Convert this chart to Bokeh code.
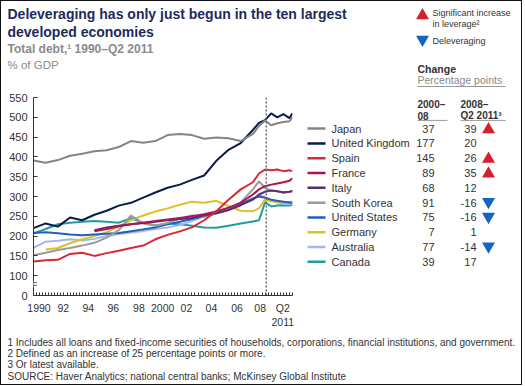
import numpy as np
from bokeh.plotting import figure
from bokeh.layouts import column, row
from bokeh.models import Label, Span, FixedTicker, Range1d
from bokeh.core.properties import value
from bokeh.embed import file_html
from bokeh.resources import INLINE

# ---------------- data ----------------
years = [1990, 1991, 1992, 1993, 1994, 1995, 1996, 1997, 1998, 1999, 2000,
         2001, 2002, 2003, 2004, 2005, 2006, 2007, 2008, 2008.5, 2009, 2009.5,
         2010, 2010.5, 2011, 2011.25]

japan = [391, 385, 392, 403, 408, 414, 417, 425, 440, 436, 440, 455, 458, 455,
         446, 449, 447, 440, 458, 478, 492, 480, 485, 488, 490, 500]
united_kingdom = [220, 232, 224, 247, 240, 254, 264, 277, 284, 297, 310, 322, 330,
                  342, 353, 390, 418, 435, 468, 486, 493, 510, 500, 508, 498, 510]
spain = [136, 139, 140, 155, 158, 150, 157, 163, 170, 176, 192, 203, 212, 222,
         240, 263, 292, 318, 336, 358, 368, 366, 368, 364, 366, 364]
france = [None, None, None, None, None, 212, 218, 225, 230, 234, 238, 242, 246,
          250, 255, 262, 272, 284, 305, 318, 326, 330, 333, 336, 340, 346]
italy = [None, None, None, None, None, 215, 222, 226, 230, 233, 236, 240, 243,
         246, 252, 258, 266, 278, 292, 305, 312, 315, 313, 311, 312, 314]
south_korea = [152, 158, 165, 170, 176, 183, 196, 215, 252, 232, 226, 233, 244,
               252, 248, 258, 268, 285, 318, 338, 322, 315, 313, 309, 312, 314]
united_states = [208, 210, 207, 204, 202, 204, 206, 208, 212, 217, 222, 230, 236,
                 243, 250, 257, 266, 280, 295, 300, 297, 292, 289, 287, 285, 284]
germany = [None, 166, 170, 182, 192, 200, 210, 224, 240, 252, 262, 270, 279, 287,
           284, 289, 276, 264, 263, 270, 292, 288, 287, 285, 286, 287]
australia = [170, 186, 188, 192, 189, 193, 200, 205, 209, 213, 218, 222, 228, 238,
             250, 259, 268, 281, 293, 303, 298, 290, 285, 282, 281, 283]
canada = [207, 218, 230, 234, 236, 238, 236, 234, 245, 234, 227, 232, 230, 226,
          222, 221, 226, 232, 237, 240, 285, 275, 277, 278, 277, 279]

countries = ["Japan", "United Kingdom", "Spain", "France", "Italy", "South Korea",
             "United States", "Germany", "Australia", "Canada"]
series = [japan, united_kingdom, spain, france, italy, south_korea,
          united_states, germany, australia, canada]
colors = ["#858585", "#0c1a4b", "#d62a36", "#a8174e", "#5a2d78", "#9a9a9a",
          "#1f5fbf", "#dcc12a", "#a3b6ef", "#1f9e9e"]
change_2000_08 = [37, 177, 145, 89, 68, 91, 75, 7, 77, 39]
change_2008_11 = [39, 20, 26, 35, 12, -16, -16, 1, -14, 17]

y_ticks = [50, 100, 150, 200, 250, 300, 350, 400, 450, 500, 550]
y_tick_labels = ["0", "100", "150", "200", "250", "300", "350", "400", "450", "500", "550"]
x_label_pos = [1990.45, 1992.45, 1994.5, 1996.55, 1998.65, 2000.6, 2002.55,
               2004.6, 2006.7, 2008.6, 2010.45]
x_tick_labels = ["1990", "92", "94", "96", "98", "2000", "02", "04", "06", "08", "Q2\n2011"]
crisis_marker = 2009.1

# ---------------- layout constants ----------------
W = 520
TOP_H = 87
MID_H = 242
FOOT_H = 54
PLOT_W = 300
TAB_W = W - PLOT_W

FONT = "Liberation Sans"
NAVY = "#1f2a5a"
GRAY = "#8a8a8a"
DARK = "#333333"
RED = "#d71e2b"
BLUE = "#1565c0"


def fxy(rx, ry):
    return rx - 1, ry - 1


def canvas_fig(w, h):
    f = figure(width=w, height=h, output_backend="svg", toolbar_location=None,
               x_range=Range1d(0, w), y_range=Range1d(h, 0),
               min_border=0, min_border_left=0, min_border_right=0,
               min_border_top=0, min_border_bottom=0)
    f.axis.visible = False
    f.grid.visible = False
    f.outline_line_color = None
    f.background_fill_color = "white"
    f.border_fill_color = "white"
    return f


def put_text(f, ox, oy, s, rx, ry, size=11, color=DARK, bold=False, align="left"):
    x, y = fxy(rx, ry)
    f.text(x=[x - ox], y=[y - oy], text=[s], text_font=value(FONT),
           text_font_size=value(f"{size}px"), text_color=color,
           text_font_style="bold" if bold else "normal",
           text_align=align, text_baseline="middle")


def put_rule(f, ox, oy, rx0, rx1, ry, color, width=1.0):
    x0, y0 = fxy(rx0, ry)
    x1, _ = fxy(rx1, ry)
    f.segment(x0=[x0 - ox], y0=[y0 - oy], x1=[x1 - ox], y1=[y0 - oy],
              line_color=color, line_width=width)


def put_tri(f, ox, oy, rx, ry, up, color):
    x, y = fxy(rx, ry)
    f.scatter(x=[x - ox], y=[y - oy + (1 if up else -1)],
              marker="triangle" if up else "inverted_triangle",
              size=13, fill_color=color, line_color=None)


# ---------------- top block: titles, symbol legend, header ----------------
top = canvas_fig(W, TOP_H)
put_text(top, 0, 0, "Deleveraging has only just begun in the ten largest", 7, 13, 14, NAVY, True)
put_text(top, 0, 0, "developed economies", 7, 31, 14, NAVY, True)
put_text(top, 0, 0, "Total debt,\u00b9 1990\u2013Q2 2011", 7, 48.5, 12, GRAY, True)
put_text(top, 0, 0, "% of GDP", 7, 64, 11.5, GRAY)

put_tri(top, 0, 0, 422, 14, True, RED)
put_text(top, 0, 0, "Significant increase", 432, 12, 9)
put_text(top, 0, 0, "in leverage\u00b2", 432, 23, 9)
put_tri(top, 0, 0, 422, 40, False, BLUE)
put_text(top, 0, 0, "Deleveraging", 432, 40, 9)

put_text(top, 0, 0, "Change", 417, 68, 10.5, DARK, True)
put_text(top, 0, 0, "Percentage points", 417, 79, 10.5, GRAY)
put_rule(top, 0, 0, 417, 505, 86, "#999999", 1)

# ---------------- plot ----------------
p = figure(width=PLOT_W, height=MID_H, output_backend="svg", toolbar_location=None,
           x_range=Range1d(1990, 2011.25), y_range=Range1d(50, 550),
           min_border_left=32, min_border_right=PLOT_W - 32 - 259,
           min_border_top=9, min_border_bottom=MID_H - 9 - 200)
p.outline_line_color = None
p.xgrid.visible = False
p.ygrid.visible = False
p.background_fill_color = "white"
p.border_fill_color = "white"

p.yaxis.ticker = FixedTicker(ticks=y_ticks)
p.yaxis.major_label_overrides = {t: l for t, l in zip(y_ticks, y_tick_labels)}
p.yaxis.major_tick_in = 4
p.yaxis.major_tick_out = 0
p.yaxis.minor_tick_line_color = None
p.yaxis.major_label_standoff = 6
p.yaxis.major_label_text_font = FONT
p.yaxis.major_label_text_font_size = "11px"
p.yaxis.major_label_text_color = DARK
p.yaxis.axis_line_color = DARK
p.yaxis.major_tick_line_color = DARK

p.xaxis.ticker = FixedTicker(ticks=x_label_pos,
                             minor_ticks=list(np.arange(1990, 2011.26, 0.25)))
p.xaxis.major_label_overrides = {t: l for t, l in zip(x_label_pos, x_tick_labels)}
p.xaxis.major_tick_in = 0
p.xaxis.major_tick_out = 0
p.xaxis.minor_tick_in = 3
p.xaxis.minor_tick_out = 0
p.xaxis.minor_tick_line_color = DARK
p.xaxis.major_label_standoff = 6
p.xaxis.major_label_text_font = FONT
p.xaxis.major_label_text_font_size = "10.5px"
p.xaxis.major_label_text_color = DARK
p.xaxis.axis_line_color = DARK

for vals, col in reversed(list(zip(series, colors))):
    v = np.array([np.nan if x is None else x for x in vals], dtype=float)
    p.line(years, v, line_color=col, line_width=2)

p.add_layout(Span(location=crisis_marker, dimension="height", line_color="#666666",
                  line_dash="2 2", line_width=1.5))
p.add_layout(Label(x=1990, y=78, text="\\\\", angle=np.pi / 2, text_font=FONT,
                   text_font_size="10px", text_color=DARK, text_align="center",
                   text_baseline="middle", background_fill_color="white"))

# ---------------- table ----------------
tab = canvas_fig(TAB_W, MID_H)
OX, OY = PLOT_W, TOP_H
put_text(tab, OX, OY, "2000\u2013", 417, 97, 10, DARK, True)
put_text(tab, OX, OY, "08", 417, 110, 10, DARK, True)
put_text(tab, OX, OY, "2008\u2013", 460, 97, 10, DARK, True)
put_text(tab, OX, OY, "Q2 2011\u00b3", 460, 110, 10, DARK, True)
put_rule(tab, OX, OY, 417, 447, 116, "#999999", 1)
put_rule(tab, OX, OY, 460, 505, 116, "#999999", 1)

for i, (name, col, c1, c2) in enumerate(zip(countries, colors, change_2000_08, change_2008_11)):
    ry = 126 + 18.1 * i
    put_rule(tab, OX, OY, 307, 325, ry, col, 2.5)
    put_text(tab, OX, OY, name, 331, ry, 11)
    put_text(tab, OX, OY, str(c1), 434, ry, 11, align="right")
    put_text(tab, OX, OY, str(c2), 476, ry, 11, align="right")
    if c2 >= 25:
        put_tri(tab, OX, OY, 488, ry, True, RED)
    elif c2 < 0:
        put_tri(tab, OX, OY, 488, ry, False, BLUE)

# ---------------- footnotes ----------------
foot = canvas_fig(W, FOOT_H)
FY = TOP_H + MID_H
put_text(foot, 0, FY, "1  Includes all loans and fixed-income securities of households, corporations, financial institutions, and government.", 7, 342, 10)
put_text(foot, 0, FY, "2  Defined as an increase of 25 percentage points or more.", 7, 353, 10)
put_text(foot, 0, FY, "3  Or latest available.", 7, 364, 10)
put_text(foot, 0, FY, "SOURCE: Haver Analytics; national central banks; McKinsey Global Institute", 7, 376, 10)

layout = column(top, row(p, tab, spacing=0), foot, spacing=0,
                styles={"border": "1px solid #111111"})

open("out.html", "w").write(file_html(layout, INLINE))
